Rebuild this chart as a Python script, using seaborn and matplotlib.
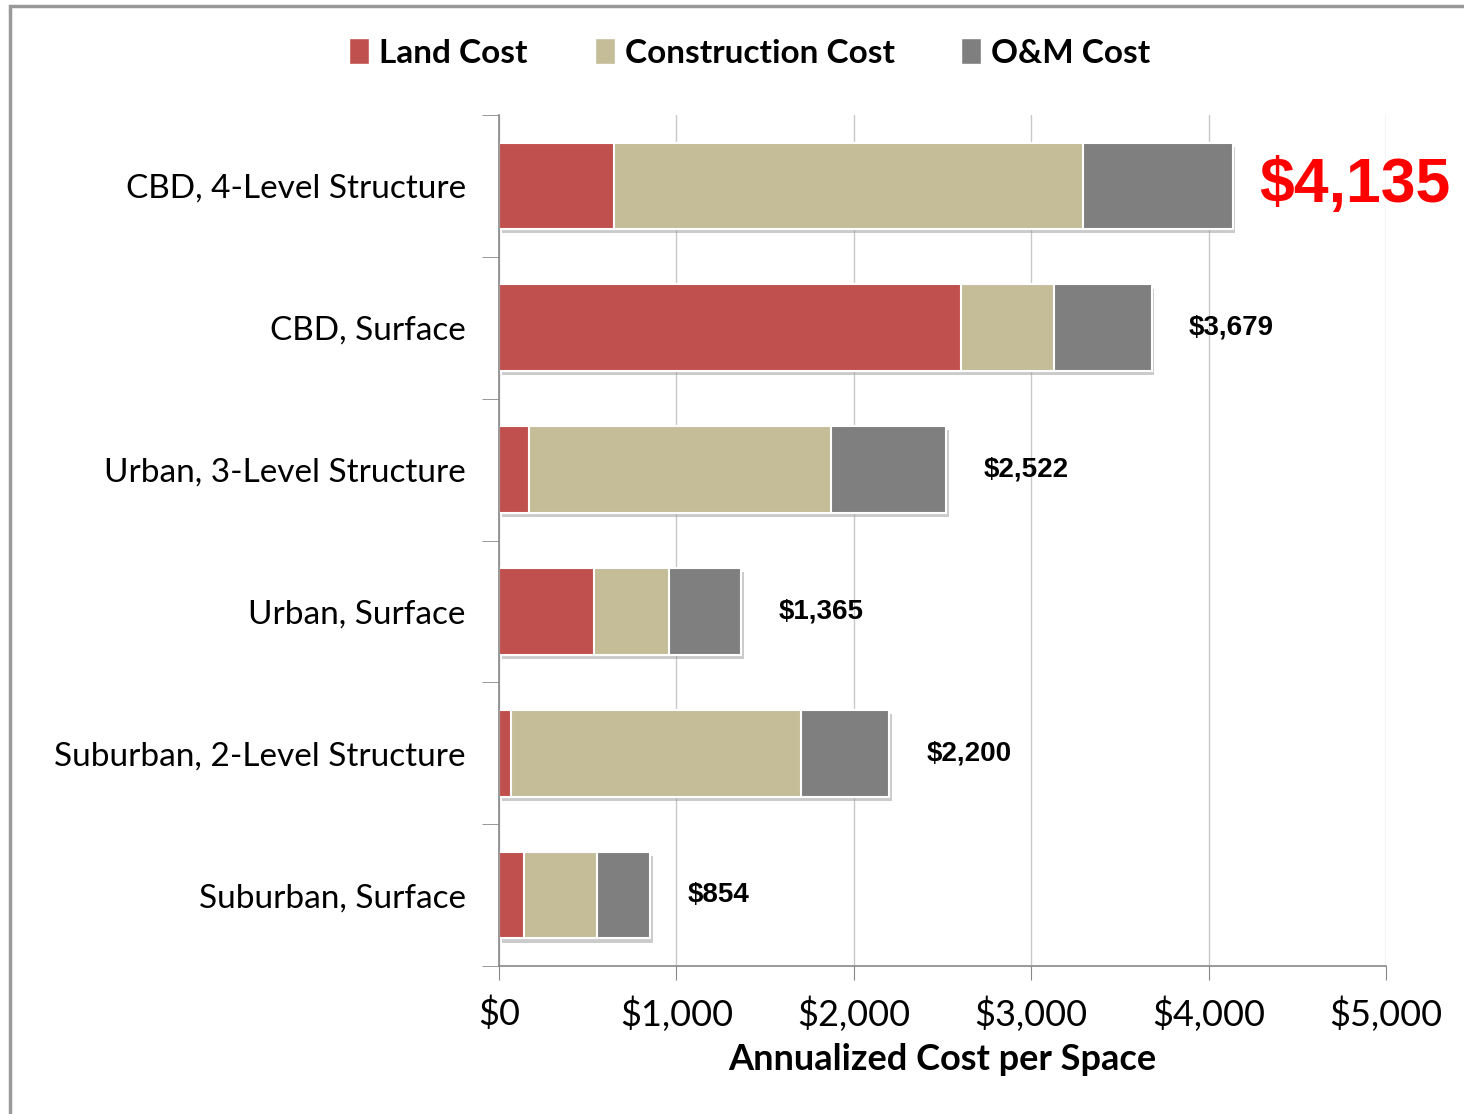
import numpy as np
import pandas as pd
import seaborn as sns
import matplotlib.pyplot as plt
import matplotlib.patches as mpatches
import matplotlib.patheffects as pe
from matplotlib.ticker import FuncFormatter, FixedLocator

# values (annualized $ per space)
categories = ['CBD, 4-Level Structure', 'CBD, Surface', 'Urban, 3-Level Structure',
              'Urban, Surface', 'Suburban, 2-Level Structure', 'Suburban, Surface']
land = [648, 2604, 169, 535, 68, 141]
construction = [2644, 524, 1702, 423, 1634, 411]
om = [843, 551, 651, 407, 498, 302]
totals = [4135, 3679, 2522, 1365, 2200, 854]

c_land = '#c0504d'
c_cons = '#c4bd97'
c_om = '#7f7f7f'

df = pd.DataFrame({'cat': categories, 'land': land, 'cons': construction, 'om': om})
df['lc'] = df['land'] + df['cons']
df['tot'] = df['lc'] + df['om']

sns.set_style('white')
plt.rcParams['font.family'] = ['Lato', 'DejaVu Sans']
plt.rcParams['text.color'] = 'black'
plt.rcParams['axes.labelcolor'] = 'black'
plt.rcParams['xtick.labelcolor'] = 'black'
plt.rcParams['ytick.labelcolor'] = 'black'

fig = plt.figure(figsize=(14.64, 11.14), dpi=100)
ax = fig.add_axes([499/1464, 1-966/1114, 887/1464, (966-115)/1114])

shadow = [pe.SimplePatchShadow(offset=(2, -3), shadow_rgbFace='#999999', alpha=0.5), pe.Normal()]
for col, color in [('tot', c_om), ('lc', c_cons), ('land', c_land)]:
    sns.barplot(data=df, x=col, y='cat', color=color, width=0.61, orient='h',
                edgecolor='white', linewidth=1.5, saturation=1, ax=ax)
# shadow only under the full-length bars
for p in ax.patches[:len(categories)]:
    p.set_path_effects(shadow)

ax.set_xlim(0, 5000)
ax.set_ylim(5.5, -0.5)
ax.set_xticks(np.arange(0, 5001, 1000))
ax.xaxis.set_major_formatter(FuncFormatter(lambda v, _: f'${v:,.0f}'))
ax.grid(axis='x', color='#c8c8c8', linewidth=1)
ax.set_axisbelow(True)
ax.yaxis.set_minor_locator(FixedLocator(np.arange(-0.5, 6, 1)))
ax.tick_params(axis='y', which='major', length=0, pad=24, labelsize=24)
ax.tick_params(axis='y', which='minor', length=12, color='#888888', left=True)
ax.tick_params(axis='x', length=10, color='#888888', bottom=True, labelsize=26, pad=12)
for s in ['top', 'right']:
    ax.spines[s].set_visible(False)
for s in ['left', 'bottom']:
    ax.spines[s].set_color('#888888')
    ax.spines[s].set_linewidth(1.2)
ax.set_ylabel('')
ax.set_xlabel('Annualized Cost per Space', fontsize=26, fontweight='bold', labelpad=8)

for i, t in enumerate(totals):
    if i == 0:
        ax.text(t + 150, i, f'${t:,}', color='red', fontsize=45, fontweight='bold',
                va='center', ha='left', family='Liberation Sans')
    else:
        ax.text(t + 210, i, f'${t:,}', color='black', fontsize=20, fontweight='bold',
                va='center', ha='left', family=['Liberation Sans Narrow', 'Liberation Sans'])

handles = [mpatches.Patch(facecolor=c, edgecolor='white', label=l)
           for c, l in [(c_land, 'Land Cost'), (c_cons, 'Construction Cost'), (c_om, 'O&M Cost')]]
fig.legend(handles=handles, loc='center', bbox_to_anchor=(750/1464, 1-53/1114), ncol=3,
           frameon=False, prop={'size': 24, 'weight': 'bold'}, handlelength=0.6,
           handleheight=0.8, handletextpad=0.3, columnspacing=2.0)

fig.add_artist(mpatches.Rectangle((10/1464, -0.1), 1.2, 1 - 6/1114 + 0.1, transform=fig.transFigure,
                                  fill=False, edgecolor='#999999', linewidth=2.5))

fig.savefig('out.png', dpi=100)
